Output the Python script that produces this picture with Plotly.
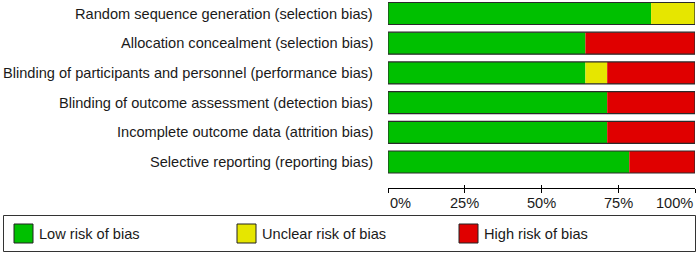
import plotly.graph_objects as go

# ---- data ----
domains = [
    "Random sequence generation (selection bias)",
    "Allocation concealment (selection bias)",
    "Blinding of participants and personnel (performance bias)",
    "Blinding of outcome assessment (detection bias)",
    "Incomplete outcome data (attrition bias)",
    "Selective reporting (reporting bias)",
]
low_risk = [85.7, 64.3, 64.3, 71.4, 71.4, 78.6]
unclear_risk = [14.3, 0.0, 7.1, 0.0, 0.0, 0.0]
high_risk = [0.0, 35.7, 28.6, 28.6, 28.6, 21.4]
tick_values = [0, 25, 50, 75, 100]
tick_labels = ["0%", "25%", "50%", "75%", "100%"]
legend_names = ["Low risk of bias", "Unclear risk of bias", "High risk of bias"]

GREEN = "rgb(0,192,0)"
YELLOW = "rgb(230,230,0)"
RED = "rgb(224,0,0)"
colors = [GREEN, YELLOW, RED]

W, H = 699, 255
ML, MR, MT, MB = 388, 4, 0, 67
PW = W - ML - MR
PH = H - MT - MB
FONT = "Arial, 'Liberation Sans', sans-serif"
FS = 14.6

def px_x(p):
    return (p - ML) / PW

def px_y(p):
    return (MT + PH - p) / PH

ypos = list(range(len(domains)))
series = [low_risk, unclear_risk, high_risk]

fig = go.Figure()
base = [0.0] * len(domains)
for vals, col, name in zip(series, colors, legend_names):
    fig.add_trace(go.Bar(
        y=ypos, x=vals, base=list(base), orientation="h", width=0.74,
        marker=dict(color=col, line=dict(width=0)), name=name,
        showlegend=False, hoverinfo="skip",
    ))
    base = [b + v for b, v in zip(base, vals)]

# outline around each whole bar
fig.add_trace(go.Bar(
    y=ypos, x=base, base=[0] * len(domains), orientation="h", width=0.74,
    marker=dict(color="rgba(0,0,0,0)", line=dict(color="#2a2a2a", width=1.2)),
    showlegend=False, hoverinfo="skip",
))

# invisible trace for overlay axis (outside tick part)
fig.add_trace(go.Scatter(x=[0, 100], y=[0, 0], xaxis="x2", mode="markers",
                         marker=dict(opacity=0), showlegend=False, hoverinfo="skip"))

fig.update_layout(
    width=W, height=H,
    margin=dict(l=ML, r=MR, t=MT, b=MB, pad=0),
    paper_bgcolor="white", plot_bgcolor="white",
    barmode="overlay",
    font=dict(family=FONT, size=FS, color="#1a1a1a"),
    xaxis=dict(range=[0, 100], tickvals=tick_values, showticklabels=False,
               ticks="inside", ticklen=3, tickcolor="black", tickwidth=1,
               showline=True, linecolor="black", linewidth=1,
               showgrid=False, zeroline=False, fixedrange=True),
    xaxis2=dict(range=[0, 100], overlaying="x", anchor="y", side="bottom",
                tickvals=tick_values, showticklabels=False,
                ticks="outside", ticklen=4, tickcolor="black", tickwidth=1,
                showline=False, showgrid=False, zeroline=False),
    yaxis=dict(range=[5.875, -0.4545], showticklabels=False, showgrid=False,
               zeroline=False, showline=False, ticks=""),
)

annotations = []
# category labels
for i, name in enumerate(domains):
    annotations.append(dict(x=px_x(375), y=i, xref="paper", yref="y",
                            text=name, showarrow=False, xanchor="right",
                            yanchor="middle", font=dict(size=FS)))
# tick labels
for v, t in zip(tick_values, tick_labels):
    anchor = "left" if v == tick_values[0] else ("right" if v == tick_values[-1] else "center")
    annotations.append(dict(x=v, y=px_y(203), xref="x", yref="paper", text=t,
                            showarrow=False, xanchor=anchor, yanchor="middle",
                            font=dict(size=FS)))

shapes = []
# legend box
shapes.append(dict(type="rect", xref="paper", yref="paper",
                   x0=px_x(3.5), x1=px_x(695.5), y0=px_y(215.5), y1=px_y(251.5),
                   line=dict(color="#333333", width=1), fillcolor="white"))
legend_x = [14, 237, 459]
for lx, col, name in zip(legend_x, colors, legend_names):
    shapes.append(dict(type="rect", xref="paper", yref="paper",
                       x0=px_x(lx), x1=px_x(lx + 19), y0=px_y(224), y1=px_y(243),
                       line=dict(color="#222222", width=1), fillcolor=col))
    annotations.append(dict(x=px_x(lx + 23), y=px_y(233.5), xref="paper", yref="paper",
                            text=name, showarrow=False, xanchor="left",
                            yanchor="middle", font=dict(size=FS)))

fig.update_layout(annotations=annotations, shapes=shapes)
fig.write_html("out.html",
               config={"displayModeBar": False, "staticPlot": True},
               post_script="document.body.style.margin='0';document.body.style.overflow='hidden';")
